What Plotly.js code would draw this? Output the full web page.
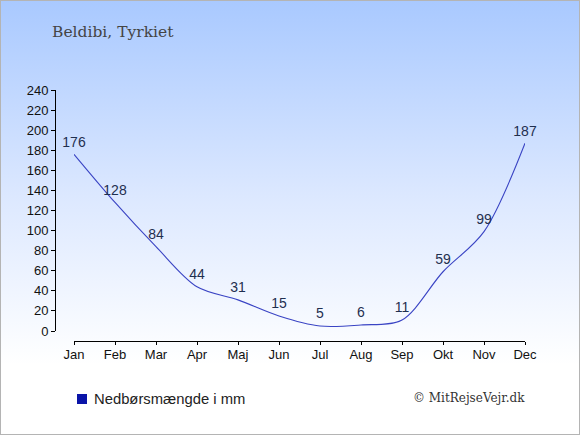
<!DOCTYPE html>
<html><head><meta charset="utf-8">
<script src="https://cdn.plot.ly/plotly-3.0.1.min.js"></script>
<style>
html,body{margin:0;padding:0;}
#wrap{position:relative;width:578px;height:433px;border:1px solid #b4b4b4;
background:linear-gradient(to bottom,#a9c9ff 0%,#dce8ff 45%,#ffffff 84%,#ffffff 100%);}
#chart{position:absolute;left:-1px;top:-1px;width:580px;height:435px;}
</style></head><body>
<div id="wrap"><div id="chart"></div></div>
<script>
const months = ["Jan","Feb","Mar","Apr","Maj","Jun","Jul","Aug","Sep","Okt","Nov","Dec"];
const rainfall = [176,128,84,44,31,15,5,6,11,59,99,187];
const yTicks = [0,20,40,60,80,100,120,140,160,180,200,220,240];
const titleText = "Beldibi, Tyrkiet";
const legendText = "Nedbørsmængde i mm";
const creditText = "© MitRejseVejr.dk";

const W = 580, H = 435;
const L = 55, R = 525, T = 90, B = 341;
const xJan = 74, y0 = 331;

const trace = {
  x: months.map((m,i)=>i), y: rainfall,
  type: 'scatter', mode: 'lines+markers+text',
  line: {color:'#3a44c4', width:1.1, shape:'spline', smoothing:0.9},
  marker: {size:5, color:'rgba(0,0,0,0)', line:{width:0}},
  text: rainfall.map(String), textposition:'top center',
  textfont: {family:'Liberation Sans, Arial, sans-serif', size:14, color:'#1f2f4f'},
  hoverinfo:'skip', showlegend:false, cliponaxis:false
};

const layout = {
  width: W, height: H,
  margin: {l:L, r:W-R, t:T, b:H-B, pad:0},
  paper_bgcolor:'rgba(0,0,0,0)', plot_bgcolor:'rgba(0,0,0,0)',
  showlegend:false,
  xaxis: {
    domain: [(xJan-L)/(R-L), 1], range:[0,11],
    anchor:'free', position:0,
    tickmode:'array', tickvals: months.map((m,i)=>i), ticktext: months,
    showline:true, linecolor:'#000', linewidth:1,
    ticks:'outside', ticklen:3, tickcolor:'#000', ticklabelstandoff:-2,
    showgrid:false, zeroline:false,
    tickfont:{family:'Liberation Sans, Arial, sans-serif', size:13, color:'#111'}
  },
  yaxis: {
    domain: [(B-y0)/(B-T), 1], range:[0,240],
    anchor:'free', position:0,
    tickmode:'array', tickvals: yTicks, ticktext: yTicks.map(String),
    showline:true, linecolor:'#000', linewidth:1,
    ticks:'outside', ticklen:4, tickcolor:'#000',
    showgrid:false, zeroline:false,
    tickfont:{family:'Liberation Sans, Arial, sans-serif', size:13, color:'#111'}
  },
  annotations: [
    {text:titleText, xref:'paper', yref:'paper', x:(50-L)/(R-L), y:1+(T-32)/(B-T),
     xanchor:'left', yanchor:'middle', showarrow:false,
     font:{family:'DejaVu Serif, serif', size:15.5, color:'#444'}},
    {text:legendText, xref:'paper', yref:'paper', x:(92-L)/(R-L), y:-(399-B)/(B-T),
     xanchor:'left', yanchor:'middle', showarrow:false,
     font:{family:'Liberation Sans, Arial, sans-serif', size:14.8, color:'#222'}},
    {text:creditText, xref:'paper', yref:'paper', x:(527-L)/(R-L), y:-(398-B)/(B-T),
     xanchor:'right', yanchor:'middle', showarrow:false,
     font:{family:'DejaVu Serif, serif', size:12, color:'#333'}}
  ],
  shapes: [
    {type:'rect', xref:'paper', yref:'paper',
     x0:(77-L)/(R-L), x1:(87-L)/(R-L), y0:-(394-B)/(B-T), y1:-(404-B)/(B-T),
     fillcolor:'#0a14a8', line:{width:0}}
  ]
};

Plotly.newPlot('chart', [trace], layout, {staticPlot:true, displayModeBar:false});
</script>
</body></html>
